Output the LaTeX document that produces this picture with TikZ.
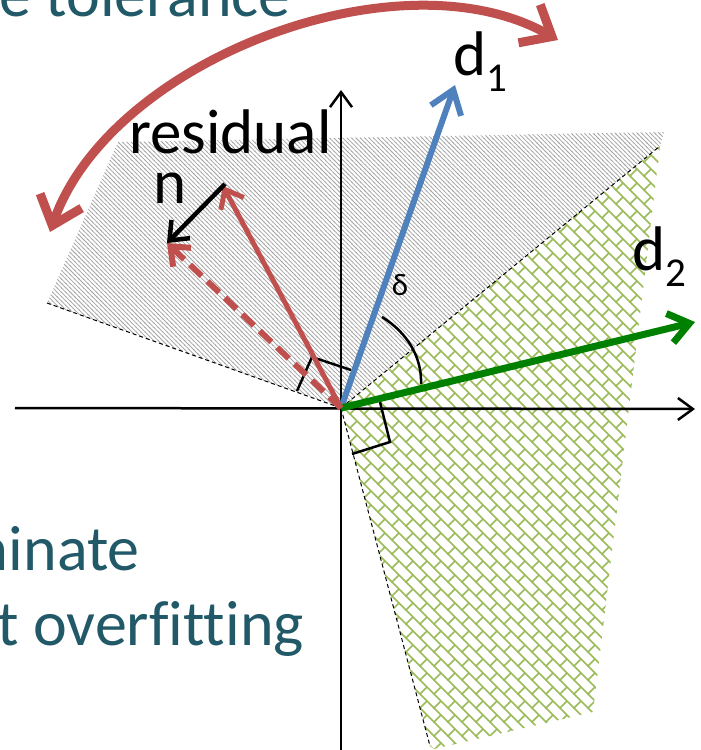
\documentclass[tikz,border=0pt]{standalone}
\usepackage{fontspec}
\setmainfont{Carlito}[Ligatures=NoCommon]
\usetikzlibrary{arrows.meta,patterns}
\definecolor{myred}{HTML}{C0504D}
\definecolor{myblue}{HTML}{4F81BD}
\definecolor{mygreen}{HTML}{008000}
\definecolor{tealtext}{HTML}{215968}
\definecolor{hatchgreen}{HTML}{9BBB59}
\definecolor{hatchgray}{HTML}{A6A6A6}
\pgfdeclarepatternformonly{finelines}{\pgfqpoint{-1pt}{-1pt}}{\pgfqpoint{5.4pt}{5.4pt}}{\pgfqpoint{4.4pt}{4.4pt}}{%
  \pgfsetlinewidth{0.75pt}%
  \pgfpathmoveto{\pgfqpoint{-0.5pt}{4.9pt}}\pgfpathlineto{\pgfqpoint{4.9pt}{-0.5pt}}%
  \pgfusepath{stroke}}
\pgfdeclarepatternformonly{greenbrick}{\pgfqpoint{-1pt}{-1pt}}{\pgfqpoint{15pt}{15pt}}{\pgfqpoint{14pt}{14pt}}{%
  \pgfsetlinewidth{1.7pt}%
  \pgfpathmoveto{\pgfqpoint{-0.5pt}{14.5pt}}\pgfpathlineto{\pgfqpoint{14.5pt}{-0.5pt}}%
  \pgfpathmoveto{\pgfqpoint{0pt}{0pt}}\pgfpathlineto{\pgfqpoint{7pt}{7pt}}%
  \pgfusepath{stroke}}
\newcommand{\mysub}[1]{\raisebox{-16pt}{\fontsize{41}{41}\selectfont #1}}
\begin{document}
\begin{tikzpicture}[x=1pt,y=-1pt,
  thindash/.style={black, line width=1pt, dash pattern=on 4pt off 3pt},
  axisline/.style={black, line width=2.5pt, -{Straight Barb[length=15pt,width=22pt]}},
  markline/.style={black, line width=2.5pt},
  lbl/.style={font=\fontsize{63}{72}\selectfont, inner sep=0pt, text=black},
  tealbl/.style={font=\fontsize{64}{72}\selectfont, inner sep=0pt, text=tealtext}]
\useasboundingbox (0,0) rectangle (701,750);
\clip (0,0) rectangle (701,750);
% coordinates
\coordinate (O) at (341,408);
\coordinate (D1) at (455,85);
\coordinate (D2) at (695,322);
\coordinate (R) at (223,186);
\coordinate (NS) at (225,184);
\coordinate (P) at (167,243);
\coordinate (XL) at (15,408);
\coordinate (XR) at (695,409);
\coordinate (YB) at (341,752);
\coordinate (YT) at (341,90);
\coordinate (DU) at (660,146);
\coordinate (DL) at (47,303);
\coordinate (DB) at (430,746);
\coordinate (CL) at (50,232);
\coordinate (CR) at (558,40);
% regions
\fill[pattern=finelines, pattern color=hatchgray] (O) -- (DL) -- (118,142) -- (664,132) -- (DU) -- cycle;
\fill[pattern=greenbrick, pattern color=hatchgreen] (O) -- (DU) -- (593,712) -- (434,749) -- (DB) -- cycle;
% dashed boundaries
\draw[thindash] (DL) -- (O);
\draw[thindash] (O) -- (DU);
\draw[thindash] (O) -- (DB);
% axes
\draw[axisline] (XL) -- (XR);
\draw[axisline] (YB) -- (YT);
% right angle marks and angle arc
\draw[markline] (297,391) -- (312,357) -- (351,370);
\draw[markline] (380,402) -- (390,442) -- (352,454);
\draw[markline] (382,317) .. controls (408,333) and (422,358) .. (421,384);
% vectors
\draw[myblue, line width=6pt, -{Straight Barb[length=22pt,width=32pt]}] (O) -- (D1);
\draw[mygreen, line width=7pt, -{Straight Barb[length=20pt,width=30pt]}] (O) -- (D2);
\draw[myred, line width=6pt, dash pattern=on 16pt off 8pt, -{Straight Barb[length=16pt,width=26pt]}] (O) -- (P);
\draw[myred, line width=5pt, -{Straight Barb[length=16pt,width=26pt]}] (O) -- (R);
\draw[black, line width=4.5pt, -{Straight Barb[length=16pt,width=26pt]}] (NS) -- (P);
% curved tolerance arrow
\draw[myred, line width=9pt, {Straight Barb[length=26pt,width=44pt]}-{Straight Barb[length=26pt,width=44pt]}] (CL) .. controls (110,60) and (400,-50) .. (CR);
% labels
\node[lbl, anchor=base west] (res) at (129,153) {residual};
\node[lbl, anchor=base west] (nlab) at (153,203) {n};
\node[lbl, anchor=base west] (d1lab) at (453,75) {d\mysub{1}};
\node[lbl, anchor=base west] (d2lab) at (632,270) {d\mysub{2}};
\node[font=\fontsize{31}{31}\selectfont, inner sep=0pt, anchor=base] (delta) at (400,295) {δ};
\node[tealbl, anchor=base east] (t1) at (291,16) {e tolerance};
\node[tealbl, anchor=base east] (t2) at (140,570) {minate};
\node[tealbl, anchor=base east] (t3) at (304,645) {t overfitting};
\end{tikzpicture}
\end{document}
